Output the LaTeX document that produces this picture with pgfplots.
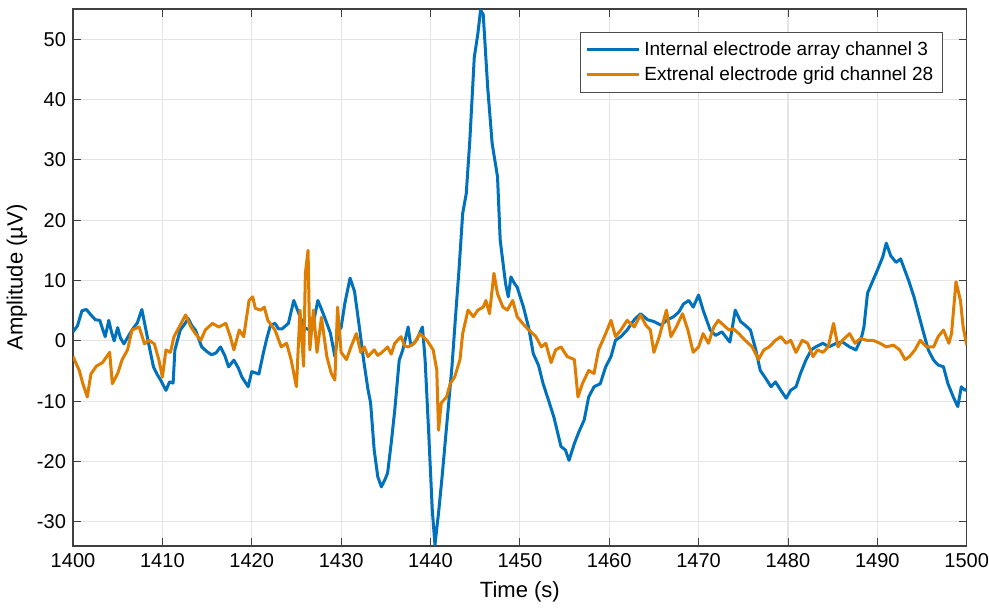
\documentclass[border=0pt]{standalone}
\usepackage{pgfplots}
\pgfplotsset{compat=1.18}
\usepackage{fontspec}
\setmainfont{Liberation Sans}
\definecolor{mblue}{RGB}{0,114,189}
\definecolor{morange}{RGB}{222,125,0}
\begin{document}
\begin{tikzpicture}
\begin{axis}[
  scale only axis,
  width=446pt, height=268pt,
  xmin=1400, xmax=1500, ymin=-34, ymax=55,
  xtick={1400,1410,...,1500}, ytick={-30,-20,...,50},
  xticklabel style={/pgf/number format/1000 sep={}, inner xsep=0pt},
  /pgf/number format/assume math mode=true,
  tick align=inside, tick pos=both,
  major tick length=4pt,
  grid=major, grid style={gray!20, line width=0.6pt},
  axis line style={black!75, line width=0.6pt},
  every tick/.style={black!75},
  tick label style={font=\fontsize{10}{12}\selectfont},
  label style={font=\fontsize{11}{13}\selectfont},
  xlabel={Time (s)}, ylabel={Amplitude (µV)},
  ylabel style={yshift=-2pt},
  legend style={at={(1,1)}, xshift=-12pt, yshift=-11.5pt, anchor=north east,
    font=\fontsize{9.5}{11.5}\selectfont, draw=black!70, row sep=0pt, inner sep=2.5pt},
  legend cell align=left,
  legend image code/.code={\draw[#1, line width=1.5pt] (0pt,0pt) -- (26pt,0pt);},
]
\addplot[mblue, line width=1.5pt, line join=round] coordinates {
(1400.0,1.5)(1400.5,2.5)(1401.0,5.0)(1401.5,5.2)(1402.0,4.3)(1402.5,3.5)(1403.0,3.4)(1403.3,2.0)(1403.6,0.7)(1404.0,3.4)
(1404.3,1.5)(1404.6,0.0)(1405.0,2.2)(1405.3,0.5)(1405.7,-0.5)(1406.2,0.8)(1406.7,2.0)(1407.2,3.0)(1407.7,5.2)(1408.0,3.0)
(1408.4,0.0)(1409.0,-4.3)(1409.4,-5.5)(1409.8,-6.5)(1410.4,-8.2)(1410.8,-6.8)(1411.2,-7.0)(1411.4,-1.5)(1412.0,1.8)(1412.5,2.8)
(1412.9,3.7)(1413.3,2.5)(1413.7,1.8)(1414.4,-1.0)(1415.0,-1.8)(1415.5,-2.3)(1416.0,-2.0)(1416.5,-1.0)(1417.0,-2.5)(1417.4,-4.3)
(1418.0,-3.2)(1418.5,-4.5)(1418.9,-6.0)(1419.6,-7.6)(1420.0,-5.1)(1420.4,-5.3)(1420.8,-5.5)(1421.3,-2.0)(1421.7,0.5)(1422.1,2.6)
(1422.6,2.9)(1423.0,2.0)(1423.4,2.0)(1424.1,2.9)(1424.7,6.7)(1425.2,4.8)(1425.9,2.2)(1426.7,1.6)(1427.4,6.7)(1428.0,4.5)
(1428.8,1.3)(1429.3,-2.6)(1429.7,1.6)(1430.0,2.2)(1430.4,6.1)(1431.0,10.4)(1431.5,8.2)(1432.1,1.6)(1432.5,-3.0)(1433.0,-8.0)
(1433.3,-10.3)(1433.7,-18.1)(1434.1,-22.5)(1434.5,-24.2)(1434.9,-23.0)(1435.2,-21.9)(1435.6,-17.0)(1436.0,-11.5)(1436.5,-3.2)(1436.9,-1.5)
(1437.5,2.3)(1437.8,-0.8)(1438.2,-0.3)(1438.5,0.3)(1439.1,2.3)(1439.4,-3.2)(1439.8,-15.3)(1440.2,-28.0)(1440.5,-33.8)(1440.9,-28.5)
(1441.3,-22.5)(1441.8,-14.2)(1442.4,-4.3)(1442.8,4.0)(1443.2,12.0)(1443.6,21.1)(1444.0,24.4)(1444.4,33.2)(1444.9,47.0)(1445.3,50.9)
(1445.6,54.8)(1445.9,54.1)(1446.4,42.0)(1446.9,32.7)(1447.5,27.2)(1447.8,16.7)(1448.4,9.5)(1448.7,7.3)(1449.0,10.6)(1449.4,9.5)
(1449.7,8.9)(1450.4,5.6)(1451.0,2.1)(1451.5,-2.1)(1452.1,-4.1)(1452.6,-7.1)(1453.2,-9.8)(1453.8,-12.6)(1454.6,-17.5)(1455.1,-18.1)
(1455.5,-19.8)(1456.1,-17.0)(1456.6,-15.1)(1457.2,-13.1)(1457.7,-9.3)(1458.3,-7.6)(1459.0,-7.1)(1459.6,-4.3)(1460.2,-2.6)(1460.7,0.1)
(1461.3,0.7)(1462.0,1.8)(1462.8,3.5)(1463.5,4.5)(1464.3,3.5)(1465.0,3.2)(1465.8,2.6)(1466.5,3.5)(1467.2,4.0)(1467.8,4.8)
(1468.3,6.1)(1468.9,6.7)(1469.4,5.6)(1470.0,7.6)(1470.5,5.1)(1471.3,1.8)(1471.9,0.9)(1472.6,1.5)(1473.5,-0.2)(1474.1,5.1)
(1474.7,3.2)(1475.2,2.6)(1475.8,1.8)(1476.4,-1.5)(1476.9,-4.9)(1477.5,-6.2)(1478.1,-7.6)(1478.6,-6.8)(1479.2,-8.2)(1479.8,-9.5)
(1480.3,-8.2)(1480.9,-7.6)(1481.4,-5.4)(1482.0,-3.2)(1482.6,-1.5)(1483.1,-1.0)(1483.9,-0.4)(1484.6,-1.0)(1485.4,-0.4)(1486.1,-0.2)
(1486.9,-1.0)(1487.6,-1.5)(1488.2,0.4)(1488.5,2.3)(1488.9,7.9)(1489.5,10.0)(1490.0,11.7)(1490.6,13.9)(1491.0,16.2)(1491.5,14.1)
(1492.1,13.0)(1492.6,13.6)(1493.2,11.2)(1493.5,10.0)(1494.1,7.3)(1494.6,4.5)(1495.2,1.2)(1495.7,-1.5)(1496.3,-3.2)(1496.8,-4.0)
(1497.4,-4.3)(1497.9,-7.1)(1498.5,-9.3)(1499.0,-10.9)(1499.4,-7.6)(1499.8,-8.2)(1500.0,-8.0)
};
\addlegendentry{Internal electrode array channel 3}
\addplot[morange, line width=1.5pt, line join=round] coordinates {
(1400.0,-2.6)(1400.7,-4.9)(1401.1,-7.1)(1401.6,-9.3)(1402.0,-5.5)(1402.6,-4.2)(1403.3,-3.6)(1404.1,-1.9)(1404.4,-7.1)(1405.0,-5.4)
(1405.5,-3.1)(1406.1,-1.5)(1406.6,1.8)(1407.4,2.3)(1408.0,-0.5)(1408.5,0.1)(1409.1,-0.5)(1409.6,-3.1)(1410.0,-6.0)(1410.4,-1.5)
(1410.9,-1.9)(1411.3,0.7)(1412.1,2.9)(1412.6,4.3)(1413.2,2.3)(1413.7,1.2)(1414.3,0.1)(1414.8,1.8)(1415.6,2.9)(1416.3,2.3)
(1417.1,2.9)(1417.6,0.7)(1418.0,-1.5)(1418.6,1.8)(1419.1,0.7)(1419.7,6.7)(1420.1,7.3)(1420.4,5.4)(1421.0,5.1)(1421.4,5.6)
(1421.8,3.4)(1422.6,1.8)(1423.3,-1.0)(1423.9,-0.4)(1424.4,-3.1)(1425.0,-7.6)(1425.4,5.1)(1425.8,-4.2)(1426.0,11.2)(1426.3,15.0)
(1426.5,-1.5)(1426.9,5.1)(1427.3,-1.9)(1427.8,3.9)(1428.4,-2.6)(1428.9,-5.4)(1429.3,-6.5)(1429.6,5.6)(1430.0,-1.9)(1430.6,-3.1)
(1431.1,-1.0)(1431.7,1.2)(1432.2,-1.9)(1432.6,-1.0)(1433.0,-2.6)(1433.7,-1.5)(1434.1,-2.4)(1434.5,-2.0)(1435.2,-1.0)(1435.6,-2.2)
(1436.0,-0.4)(1436.7,0.7)(1437.1,-0.8)(1437.5,-1.0)(1438.2,-0.4)(1438.8,1.2)(1439.6,0.1)(1440.3,-1.5)(1440.7,-4.8)(1440.9,-14.8)
(1441.2,-10.3)(1441.8,-9.3)(1442.2,-7.1)(1442.7,-6.0)(1443.3,-3.1)(1443.6,1.2)(1444.2,5.1)(1444.8,4.0)(1445.3,5.1)(1445.9,5.6)
(1446.2,6.7)(1446.6,4.5)(1447.1,11.2)(1447.5,7.8)(1448.1,5.6)(1448.6,5.1)(1449.2,6.7)(1449.7,4.0)(1450.3,2.9)(1451.0,1.8)
(1451.8,0.7)(1452.4,-1.0)(1452.9,-0.4)(1453.5,-3.6)(1454.0,-1.5)(1454.6,-1.0)(1455.3,-2.6)(1456.1,-3.1)(1456.5,-9.3)(1457.0,-7.1)
(1457.7,-4.9)(1458.3,-5.4)(1458.8,-1.5)(1459.6,1.2)(1460.2,3.4)(1460.7,0.7)(1461.3,1.8)(1462.0,3.4)(1462.8,2.3)(1463.5,4.3)
(1464.1,2.6)(1464.6,1.8)(1465.0,-1.9)(1465.6,0.7)(1466.4,5.1)(1466.9,0.7)(1467.5,2.3)(1468.2,4.5)(1468.8,1.8)(1469.4,-1.9)
(1470.0,-1.0)(1470.5,1.2)(1471.1,-0.4)(1471.7,2.3)(1472.2,3.4)(1472.8,2.6)(1473.4,1.8)(1473.9,2.0)(1474.5,1.2)(1475.2,0.1)
(1476.0,-1.0)(1476.7,-3.1)(1477.3,-1.5)(1477.9,-1.0)(1478.6,0.1)(1479.2,0.7)(1479.8,-0.4)(1480.3,0.1)(1480.9,-1.9)(1481.6,0.1)
(1482.2,-0.4)(1482.8,-2.6)(1483.3,-1.5)(1483.9,-1.9)(1484.5,-1.0)(1485.1,2.9)(1485.6,-1.0)(1486.1,0.1)(1486.9,1.2)(1487.5,-0.4)
(1488.1,0.4)(1488.8,0.1)(1489.5,0.1)(1490.3,-0.4)(1491.0,-1.0)(1491.8,-0.7)(1492.5,-1.5)(1493.1,-3.1)(1493.6,-2.6)(1494.2,-1.5)
(1494.8,0.1)(1495.5,-1.0)(1496.3,-1.0)(1496.8,0.7)(1497.4,1.8)(1498.0,-0.4)(1498.3,1.2)(1498.8,9.8)(1499.3,6.7)(1499.6,2.3)
(1500.0,-0.7)
};
\addlegendentry{Extrenal electrode grid channel 28}
\end{axis}
\path ([yshift=4.5pt]current axis.north);
\end{tikzpicture}
\end{document}
